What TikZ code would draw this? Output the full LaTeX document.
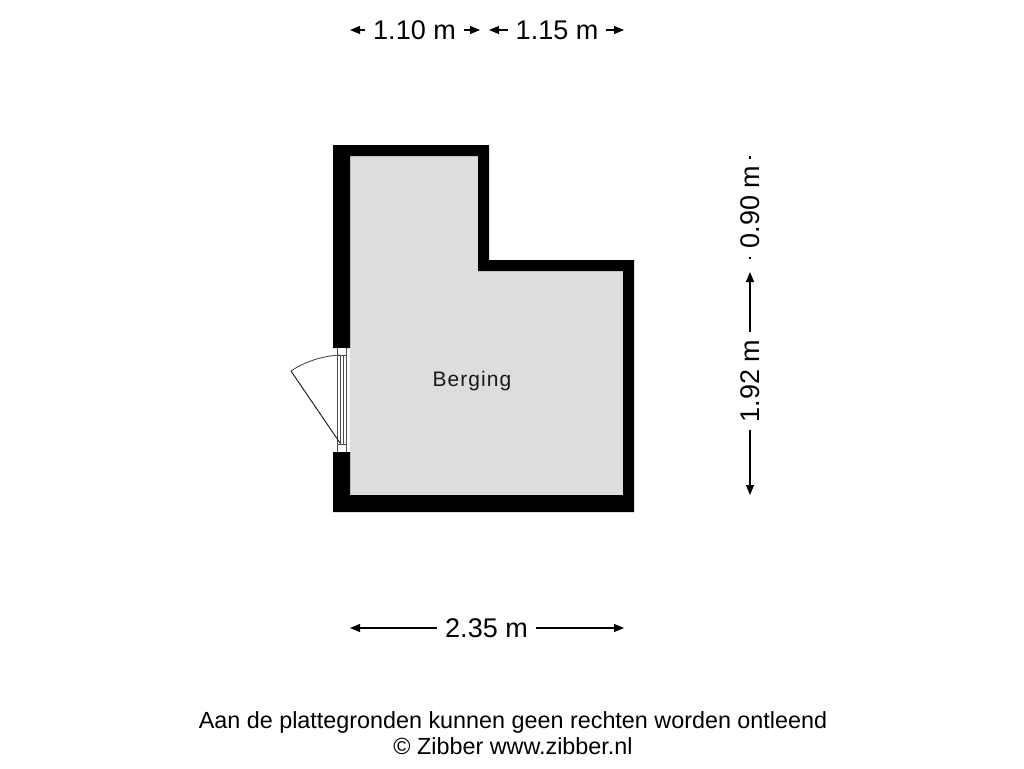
\documentclass[tikz,border=0pt]{standalone}
\usepackage{fontspec}
\setmainfont{Liberation Sans}
\usetikzlibrary{arrows.meta}
\definecolor{floorgrey}{RGB}{221,221,221}
\tikzset{
  x=1pt,y=-1pt,
  dimtext/.style={inner sep=0pt,font=\fontsize{27}{27}\selectfont,text=black},
  dimline/.style={line width=1.1pt,-{Triangle[length=10pt,width=8pt]},shorten <=8pt},
  smalldim/.style={line width=1.1pt,-{Triangle[length=10pt,width=8pt]},shorten <=8pt},
  thinline/.style={line width=0.9pt,draw=black!70},
  note/.style={inner sep=0pt,font=\fontsize{23.35}{23.35}\selectfont,text=black},
}
\begin{document}
\begin{tikzpicture}
\useasboundingbox (0,0) rectangle (1024,768);
\fill[white] (0,0) rectangle (1024,768);
% floor
\fill[floorgrey] (350,156) -- (478,156) -- (478,271) -- (623,271) -- (623,495) -- (350,495) -- cycle;
% walls
\fill[black] (333,145) -- (489,145) -- (489,260) -- (634,260) -- (634,512) -- (333,512) -- (333,452) -- (350,452) -- (350,495) -- (623,495) -- (623,271) -- (478,271) -- (478,156) -- (350,156) -- (350,348) -- (333,348) -- cycle;
% door frame
\fill[white] (337,348) rectangle (346,452);
\draw[thinline] (337,348) -- (337,452);
\draw[thinline] (346,348) -- (346,452);
\draw[thinline] (340,355) -- (340,444);
\draw[thinline] (343,355) -- (343,444);
\draw[thinline] (337,355) -- (346,355);
\draw[thinline] (337,444) -- (346,444);
% door leaf and swing
\coordinate (hinge) at (340,443);
\coordinate (leaf) at (291,371);
\coordinate (jamb) at (340,355);
\draw[line width=1pt,draw=black!85] (hinge) -- (leaf);
\draw[line width=0.9pt,draw=black!70] (leaf) .. controls (306,361) and (323,356) .. (jamb);
% label
\node[inner sep=0pt,font=\fontsize{21}{21}\selectfont,text=black!90] (room) at (472,381.5) {\addfontfeature{LetterSpace=5}Berging};
% top dimensions
\node[dimtext] (d110) at (414.5,30) {1.10 m};
\coordinate (d110l) at (350,30);
\coordinate (d110r) at (480,30);
\draw[smalldim] (d110) -- (d110l);
\draw[smalldim] (d110) -- (d110r);
\node[dimtext] (d115) at (557,30) {1.15 m};
\coordinate (d115l) at (489,30);
\coordinate (d115r) at (624,30);
\draw[smalldim] (d115) -- (d115l);
\draw[smalldim] (d115) -- (d115r);
% bottom dimension
\node[dimtext] (d235) at (486.5,628) {2.35 m};
\coordinate (d235l) at (350,628);
\coordinate (d235r) at (624,628);
\draw[dimline] (d235) -- (d235l);
\draw[dimline] (d235) -- (d235r);
% right dimensions
\node[dimtext,rotate=90] (d192) at (750,381) {1.92 m};
\coordinate (d192t) at (750,272);
\coordinate (d192b) at (750,495);
\draw[dimline] (d192) -- (d192t);
\draw[dimline] (d192) -- (d192b);
\node[dimtext,rotate=90] (d090) at (750,207) {0.90 m};
\coordinate (d090t) at (750,156);
\coordinate (d090b) at (750,259);
\draw[line width=1.3pt] (750,158.5) -- (d090t);
\draw[line width=1.3pt] (750,256.5) -- (d090b);
% footer
\node[note] (n1) at (513,722) {Aan de plattegronden kunnen geen rechten worden ontleend};
\node[note] (n2) at (513,746) {© Zibber www.zibber.nl};
\end{tikzpicture}
\end{document}
